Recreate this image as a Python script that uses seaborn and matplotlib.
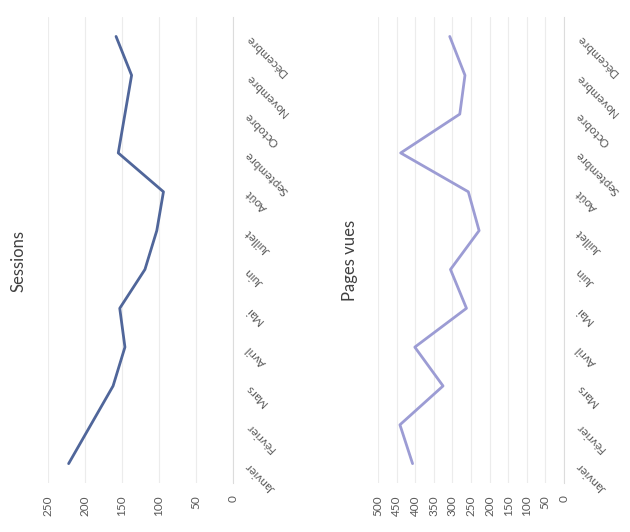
import numpy as np
import pandas as pd
import seaborn as sns
import matplotlib
matplotlib.use('Agg')
import matplotlib.pyplot as plt

# data (chart is rotated 90 degrees)
months = ['Janvier', 'Février', 'Mars', 'Avril', 'Mai', 'Juin',
          'Juillet', 'Août', 'Septembre', 'Octobre', 'Novembre', 'Décembre']
sessions = [222, 192, 162, 146, 153, 119, 103, 94, 155, 146, 137, 158]
pages_vues = [407, 441, 325, 401, 262, 305, 228, 257, 439, 280, 266, 307]

sessions_ticks = [0, 50, 100, 150, 200, 250]
pages_ticks = [0, 50, 100, 150, 200, 250, 300, 350, 400, 450, 500]

df = pd.DataFrame({'mois': months, 'pos': np.arange(len(months)),
                   'Sessions': sessions, 'Pages vues': pages_vues})

sns.set_style('white')
plt.rcParams['font.family'] = ['Lato', 'DejaVu Sans']

fig = plt.figure(figsize=(6.3, 5.32), dpi=100)
ax1 = fig.add_axes([0.076, 0.092, 0.294, 0.876])
ax2 = fig.add_axes([0.600, 0.092, 0.295, 0.876])

txt = '#595959'

def draw(ax, col, color, ticks, title, tx):
    sns.lineplot(data=df, x=col, y='pos', sort=False, orient='y',
                 color=color, linewidth=2.0, ax=ax)
    ax.set_xlim(ticks[-1], 0)
    ax.set_ylim(-0.5, len(months) - 0.5)
    ax.set_xticks(ticks)
    ax.set_xticklabels([str(t) for t in ticks], rotation=90, color=txt, fontsize=8.5)
    ax.set_yticks(df['pos'])
    ax.yaxis.tick_right()
    ax.set_yticklabels(df['mois'], rotation=135, rotation_mode='anchor',
                       ha='right', va='center', color=txt, fontsize=8.5)
    ax.tick_params(axis='x', length=0, pad=9)
    ax.tick_params(axis='y', length=0, pad=10)
    ax.grid(axis='x', color='#ececec', linewidth=0.8)
    ax.grid(axis='y', visible=False)
    for s in ['top', 'bottom', 'left']:
        ax.spines[s].set_visible(False)
    ax.spines['right'].set_color('#dcdcdc')
    ax.spines['right'].set_linewidth(0.8)
    ax.set_xlabel('')
    ax.set_ylabel('')
    fig.text(tx, 0.51, title, rotation=90, ha='center', va='center',
             color='#404040', fontsize=12)

draw(ax1, 'Sessions', '#50669a', sessions_ticks, 'Sessions', 0.029)
draw(ax2, 'Pages vues', '#9c9cd4', pages_ticks, 'Pages vues', 0.556)

fig.savefig('out.png', dpi=100, facecolor='white')
